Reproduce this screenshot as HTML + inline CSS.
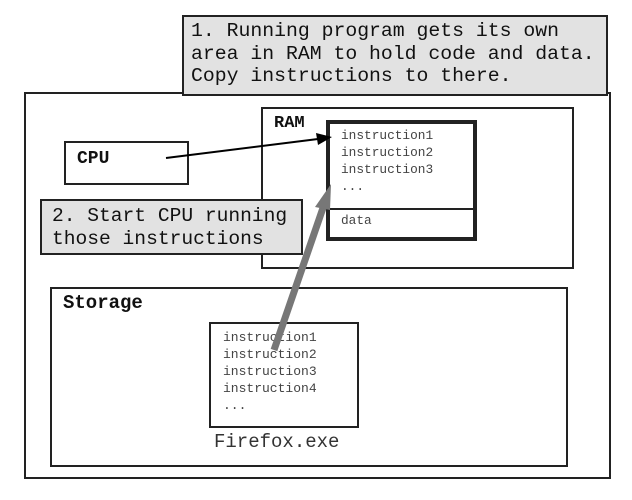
<!DOCTYPE html>
<html><head><style>
body{margin:0;width:632px;height:500px;background:#fff;position:relative;overflow:hidden;font-family:"Liberation Mono",monospace}
.b{position:absolute;box-sizing:border-box;border:2px solid #222;background:#fff}
.t{position:absolute;white-space:pre;color:#111}
</style></head><body>
<div class="b" style="left:24px;top:92px;width:587px;height:387px"></div>
<div class="b" style="left:182px;top:15px;width:426px;height:81px;background:#e2e2e2"></div>
<div class="t" style="left:191px;top:20px;font-size:19.8px;line-height:22.5px">1. Running program gets its own
area in RAM to hold code and data.
Copy instructions to there.</div>
<div class="b" style="left:261px;top:107px;width:313px;height:162px"></div>
<div class="t" style="left:274px;top:114px;font-size:17px;font-weight:bold">RAM</div>
<div class="b" style="left:326px;top:120px;width:151px;height:121px;border-width:4px"></div>
<div style="position:absolute;left:328px;top:208px;width:147px;height:2px;background:#222"></div>
<div class="t" style="left:341px;top:127px;font-size:12.8px;line-height:17px;color:#444">instruction1
instruction2
instruction3
...</div>
<div class="t" style="left:341px;top:213px;font-size:12.8px;color:#444">data</div>
<div class="b" style="left:64px;top:141px;width:125px;height:44px"></div>
<div class="t" style="left:77px;top:149px;font-size:18px;font-weight:bold">CPU</div>
<div class="b" style="left:40px;top:199px;width:263px;height:56px;background:#e2e2e2"></div>
<div class="t" style="left:52px;top:205px;font-size:19.6px;line-height:22.5px">2. Start CPU running
those instructions</div>
<div class="b" style="left:50px;top:287px;width:518px;height:180px"></div>
<div class="t" style="left:63px;top:292px;font-size:19px;font-weight:bold">Storage</div>
<div class="b" style="left:209px;top:322px;width:150px;height:106px"></div>
<div class="t" style="left:223px;top:329px;font-size:13px;line-height:17px;color:#444">instruction1
instruction2
instruction3
instruction4
...</div>
<div class="t" style="left:214px;top:431px;font-size:19px;color:#333">Firefox.exe</div>
<svg width="632" height="500" style="position:absolute;left:0;top:0">
<line x1="166" y1="158" x2="318" y2="139" stroke="#000" stroke-width="2"/>
<polygon points="332,137 316,133 318,145" fill="#000"/>
<line x1="274" y1="350" x2="324" y2="205" stroke="#777" stroke-width="7"/>
<polygon points="331,184 315,207 330,210" fill="#777"/>
</svg>
</body></html>
